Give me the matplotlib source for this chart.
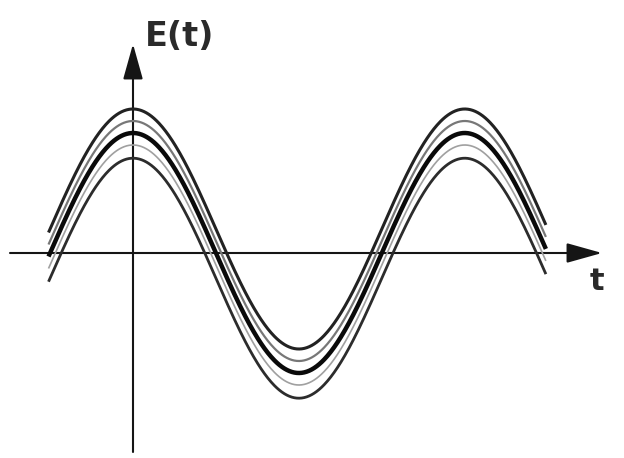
import matplotlib
matplotlib.use('Agg')
import matplotlib.pyplot as plt
import numpy as np

# curve data: E(t) = cos(t) + offset, a band of noisy realisations
t_start = -1.60
t_end = 7.82
offsets = [0.20, 0.10, 0.0, -0.10, -0.21]
line_widths = [2.2, 1.6, 3.2, 1.2, 2.0]
line_colors = ['#222222', '#777777', '#0a0a0a', '#a0a0a0', '#2c2c2c']

y_label = 'E(t)'
t_label = 't'

# pixel geometry of the scanned figure
px_per_t = 52.8
px_per_E = 120.0
x0_px, y0_px = 133, 253
W, H = 624, 458

fig = plt.figure(figsize=(W / 100, H / 100), dpi=100)
ax = fig.add_axes([0, 0, 1, 1])
ax.set_xlim(-x0_px / px_per_t, (W - x0_px) / px_per_t)
ax.set_ylim(-(H - y0_px) / px_per_E, y0_px / px_per_E)
ax.set_axis_off()

t = np.linspace(t_start, t_end, 600)
for off, lw, col in zip(offsets, line_widths, line_colors):
    ax.plot(t, np.cos(t) + off, color=col, lw=lw, solid_capstyle='butt', zorder=3)

# axes with arrows
arrow = dict(arrowstyle='-|>,head_length=1.0,head_width=0.28', lw=1.5,
             color='#151515', mutation_scale=22, shrinkA=0, shrinkB=0)
ax.annotate('', xy=((602 - x0_px) / px_per_t, 0),
            xytext=((10 - x0_px) / px_per_t, 0), arrowprops=arrow, zorder=2)
ax.annotate('', xy=(0, (y0_px - 44) / px_per_E),
            xytext=(0, (y0_px - 452) / px_per_E), arrowprops=arrow, zorder=2)

ax.text((145 - x0_px) / px_per_t, (y0_px - 37) / px_per_E, y_label,
        fontsize=24, fontweight='semibold', color='#2a2a2a', ha='left', va='center')
ax.text((597 - x0_px) / px_per_t, (y0_px - 282) / px_per_E, t_label,
        fontsize=22, fontweight='semibold', color='#2a2a2a', ha='center', va='center')

fig.savefig('out.png', dpi=100)
